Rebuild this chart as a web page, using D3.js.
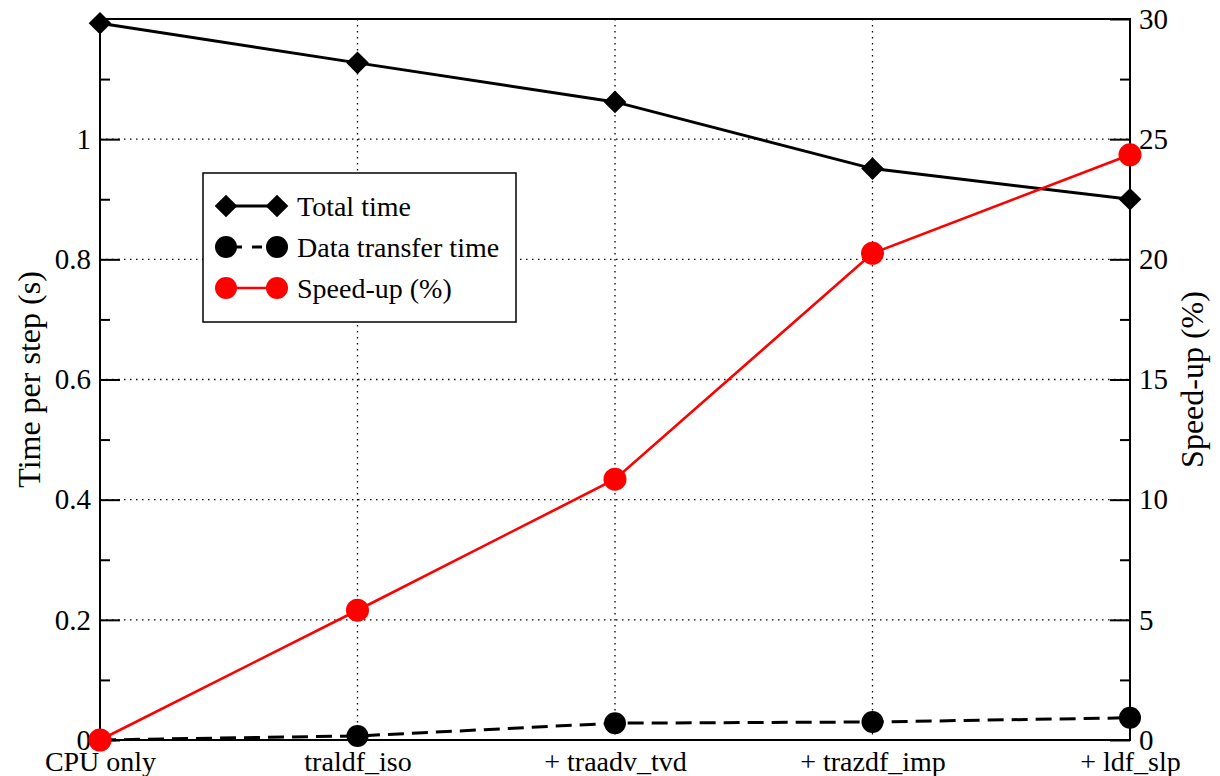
<!DOCTYPE html>
<html>
<head>
<meta charset="utf-8">
<script src="https://cdn.jsdelivr.net/npm/d3@7"></script>
</head>
<body style="margin:0;background:#fff">
<svg id="chart" width="1220" height="776" style="display:block"></svg>
<script>
// Build steps along the x axis
const categories = ["CPU only", "traldf_iso", "+ traadv_tvd", "+ trazdf_imp", "+ ldf_slp"];
// Time per step (s)
const totalTime = [1.193, 1.127, 1.062, 0.951, 0.900];
const transferTime = [0.0, 0.0067, 0.028, 0.030, 0.037];
// Speed-up relative to CPU only (%)
const speedUp = [0.0, 5.4, 10.85, 20.25, 24.35];
// Tick values
const leftTicks = [0, 0.2, 0.4, 0.6, 0.8, 1];
const rightTicks = [0, 5, 10, 15, 20, 25, 30];

const FONT = '"Liberation Serif", "Times New Roman", serif';
const svg = d3.select("#chart");
const L = 100, R = 1130, T = 19, B = 740;

function serif(sel) {
  return sel.attr("font-family", "Liberation Serif").style("font-family", FONT, "important");
}

const x = d3.scalePoint().domain(d3.range(categories.length)).range([L, R]);
const yL = d3.scaleLinear().domain([0, 1.2]).range([B, T]);
const yR = d3.scaleLinear().domain([0, 30]).range([B, T]);

// Dotted grid
const grid = svg.append("g").attr("stroke", "#000").attr("stroke-width", 1.3)
  .attr("stroke-dasharray", "1.5,4.5");
grid.selectAll("line.h").data(leftTicks.filter(d => d > 0)).join("line")
  .attr("x1", L).attr("x2", R).attr("y1", d => yL(d)).attr("y2", d => yL(d));
grid.selectAll("line.v").data(d3.range(1, categories.length - 1)).join("line")
  .attr("y1", T).attr("y2", B).attr("x1", d => x(d)).attr("x2", d => x(d));

// Frame
svg.append("rect").attr("x", L).attr("y", T).attr("width", R - L).attr("height", B - T)
  .attr("fill", "none").attr("stroke", "#000").attr("stroke-width", 2);

// Left axis: ticks inside the frame
const leftAxis = d3.axisRight(yL).tickValues(leftTicks).tickSize(20).tickFormat(d3.format("~g"));
const gL = svg.append("g").attr("transform", `translate(${L},0)`).call(leftAxis);
serif(gL);
gL.select(".domain").remove();
gL.selectAll(".tick line").attr("stroke-width", 2);
serif(gL.selectAll(".tick text").attr("x", -9).attr("text-anchor", "end")
  .attr("font-size", 29).attr("fill", "#000"));
const gLm = svg.append("g").attr("transform", `translate(${L},0)`)
  .call(d3.axisRight(yL).tickValues(d3.range(0.1, 1.2, 0.2)).tickSize(10).tickFormat(""));
gLm.select(".domain").remove();
gLm.selectAll(".tick line").attr("stroke-width", 2);

// Right axis
const rightAxis = d3.axisLeft(yR).tickValues(rightTicks).tickSize(20);
const gR = svg.append("g").attr("transform", `translate(${R},0)`).call(rightAxis);
serif(gR);
gR.select(".domain").remove();
gR.selectAll(".tick line").attr("stroke-width", 2);
serif(gR.selectAll(".tick text").attr("x", 9).attr("text-anchor", "start")
  .attr("font-size", 29).attr("fill", "#000"));
const gRm = svg.append("g").attr("transform", `translate(${R},0)`)
  .call(d3.axisLeft(yR).tickValues(d3.range(2.5, 30, 5)).tickSize(10).tickFormat(""));
gRm.select(".domain").remove();
gRm.selectAll(".tick line").attr("stroke-width", 2);

// Bottom category labels
const gB = svg.append("g").attr("transform", `translate(0,${B})`)
  .call(d3.axisBottom(x).tickSize(0).tickFormat(i => categories[i]));
serif(gB);
gB.select(".domain").remove();
serif(gB.selectAll(".tick text").attr("y", 11).attr("dy", "0.71em")
  .attr("font-size", 28).attr("fill", "#000"));

// Axis titles
serif(svg.append("text").attr("transform", `translate(40,${(T + B) / 2}) rotate(-90)`)
  .attr("text-anchor", "middle").attr("font-size", 32))
  .text("Time per step (s)");
serif(svg.append("text").attr("transform", `translate(1203,${(T + B) / 2}) rotate(-90)`)
  .attr("text-anchor", "middle").attr("font-size", 32))
  .text("Speed-up (%)");

const diamond = d3.symbol().type(d3.symbolSquare).size(256);

// Data transfer time (dashed, circles)
const lineT = d3.line().x((d, i) => x(i)).y(d => yL(d));
svg.append("path").datum(transferTime).attr("d", lineT).attr("fill", "none")
  .attr("stroke", "#000").attr("stroke-width", 3).attr("stroke-dasharray", "16,8");
svg.selectAll("circle.tr").data(transferTime).join("circle").attr("class", "tr")
  .attr("cx", (d, i) => x(i)).attr("cy", d => yL(d)).attr("r", 11).attr("fill", "#000");

// Total time (solid, diamonds)
svg.append("path").datum(totalTime).attr("d", lineT).attr("fill", "none")
  .attr("stroke", "#000").attr("stroke-width", 3);
svg.selectAll("path.tt").data(totalTime).join("path").attr("class", "tt")
  .attr("d", diamond)
  .attr("transform", (d, i) => `translate(${x(i)},${yL(d)}) rotate(45)`).attr("fill", "#000");

// Speed-up (red)
const lineS = d3.line().x((d, i) => x(i)).y(d => yR(d));
svg.append("path").datum(speedUp).attr("d", lineS).attr("fill", "none")
  .attr("stroke", "#ff0000").attr("stroke-width", 2.6);
svg.selectAll("circle.sp").data(speedUp).join("circle").attr("class", "sp")
  .attr("cx", (d, i) => x(i)).attr("cy", d => yR(d)).attr("r", 11.5).attr("fill", "#ff0000");

// Legend
const lg = svg.append("g");
lg.append("rect").attr("x", 203).attr("y", 173).attr("width", 313).attr("height", 149)
  .attr("fill", "#fff").attr("stroke", "#000").attr("stroke-width", 1.5);
const legendItems = [
  { label: "Total time", color: "#000", dash: null, shape: "diamond", y: 206, w: 3 },
  { label: "Data transfer time", color: "#000", dash: "16,8", shape: "circle", y: 247, w: 3 },
  { label: "Speed-up (%)", color: "#ff0000", dash: null, shape: "circle", y: 288, w: 2.6 }
];
legendItems.forEach(it => {
  const g = lg.append("g");
  g.append("line").attr("x1", 226).attr("x2", 277).attr("y1", it.y).attr("y2", it.y)
    .attr("stroke", it.color).attr("stroke-width", it.w)
    .attr("stroke-dasharray", it.dash ? "10,10" : null).attr("stroke-dashoffset", it.dash ? -6 : null);
  [226, 277].forEach(cx => {
    if (it.shape === "diamond") {
      g.append("path").attr("d", diamond).attr("transform", `translate(${cx},${it.y}) rotate(45)`)
        .attr("fill", it.color);
    } else {
      g.append("circle").attr("cx", cx).attr("cy", it.y).attr("r", 11).attr("fill", it.color);
    }
  });
  serif(g.append("text").attr("x", 297).attr("y", it.y).attr("dy", "0.35em")
    .attr("font-size", 28)).text(it.label);
});
</script>
</body>
</html>
